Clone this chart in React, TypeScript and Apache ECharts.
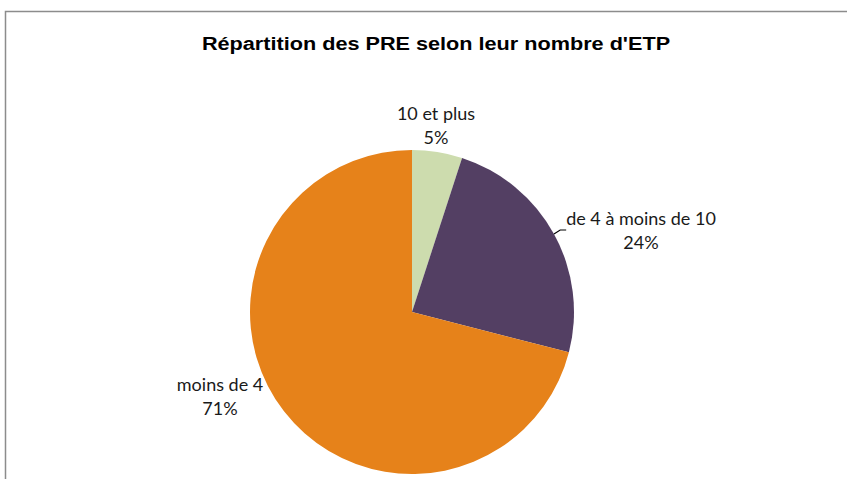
import React, { useEffect, useRef } from "react";
import * as echarts from "echarts";

const titleText = "Répartition des PRE selon leur nombre d'ETP";
const categories = ["10 et plus", "de 4 à moins de 10", "moins de 4"];
const shares = [5, 24, 71];
const colors = ["#cddcae", "#533f63", "#e6821a"];

export default function App() {
  const ref = useRef<HTMLDivElement>(null);
  useEffect(() => {
    document.body.style.margin = "0";
    const chart = echarts.init(ref.current!, null, { renderer: "svg" });
    const labelPos = [
      { x: 436, y: 125 },
      { x: 641, y: 230 },
      { x: 220, y: 396 },
    ];
    chart.setOption({
      animation: false,
      backgroundColor: "#ffffff",
      graphic: [
        {
          type: "rect",
          shape: { x: 5.5, y: 11.5, width: 900, height: 600 },
          style: { fill: "none", stroke: "#8c8c8c", lineWidth: 1.5 },
          silent: true,
        },
        {
          type: "text",
          x: 436,
          y: 43,
          scaleX: 1.14,
          style: {
            text: titleText,
            fontFamily: "Liberation Sans",
            fontSize: 19,
            fontWeight: "bold",
            fill: "#000000",
            align: "center",
            verticalAlign: "middle",
          },
          silent: true,
        },
      ],
      series: [
        {
          type: "pie",
          center: [412, 312],
          radius: 162,
          startAngle: 90,
          clockwise: true,
          data: categories.map((c, i) => ({
            name: c,
            value: shares[i],
            itemStyle: { color: colors[i] },
            labelLine: { show: i === 1, lineStyle: { color: "#000", width: 1.2 } },
          })),
          label: {
            show: true,
            position: "outside",
            formatter: (p: any) => `${p.name}\n${shares[p.dataIndex]}%`,
            fontFamily: "Lato",
            fontSize: 18,
            lineHeight: 24,
            color: "#1a1a1a",
          },
          labelLine: { length: 6, length2: 6, smooth: false },
          labelLayout: (params: any) => {
            const p = labelPos[params.dataIndex];
            return { x: p.x, y: p.y, align: "center", verticalAlign: "middle" };
          },
        },
      ],
    });
    return () => chart.dispose();
  }, []);
  return <div ref={ref} style={{ width: 847, height: 479 }} />;
}
